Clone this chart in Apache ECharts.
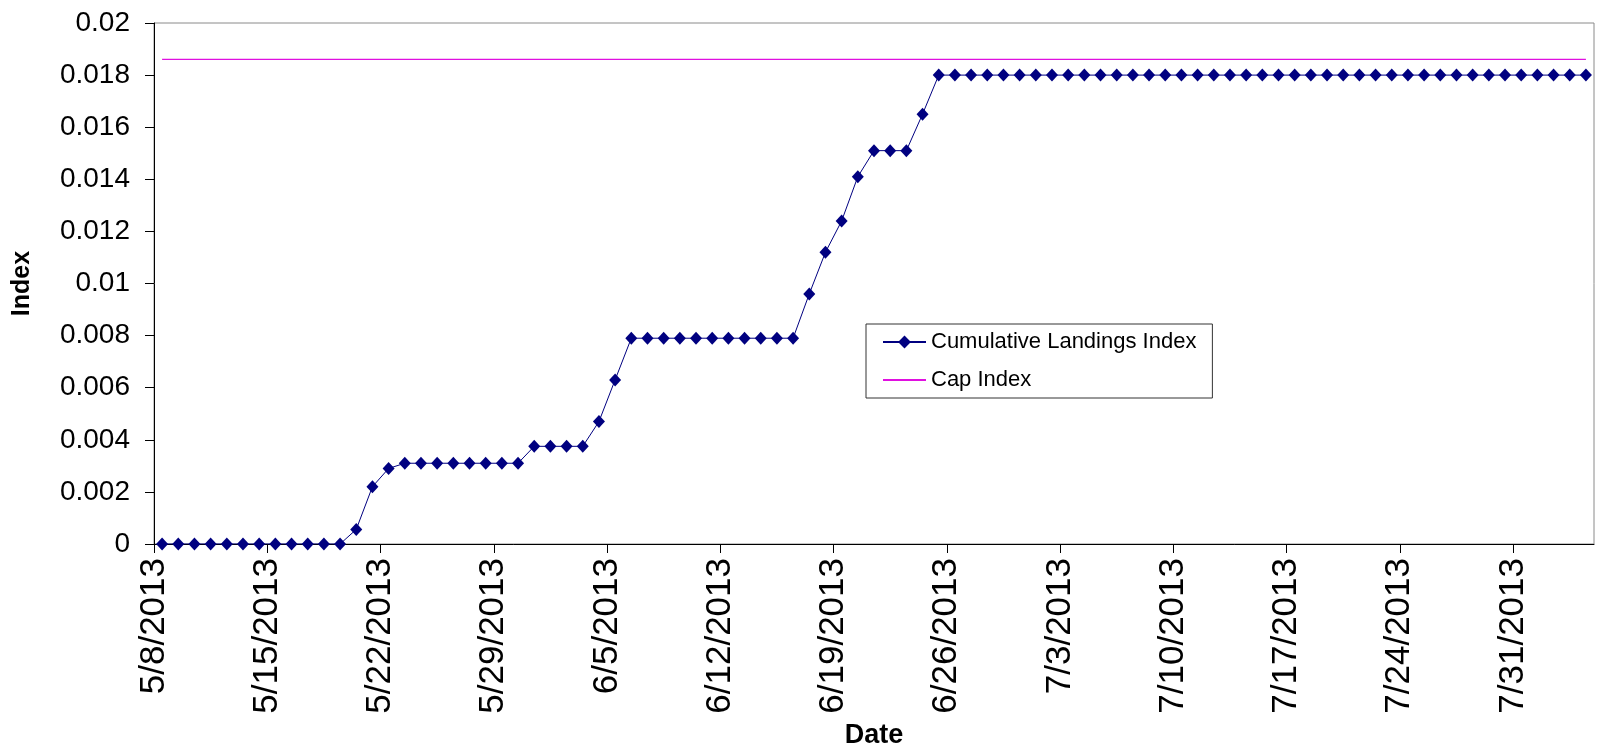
<!DOCTYPE html>
<html>
<head>
<meta charset="utf-8">
<script src="https://cdn.jsdelivr.net/npm/echarts@6/dist/echarts.min.js"></script>
<style>
html,body{margin:0;padding:0;background:#fff;}
#chart{width:1600px;height:749px;}
</style>
</head>
<body>
<div id="chart"></div>
<script>
// Tick labels on the date axis (one every 7 days, starting 5/8/2013)
const tickLabels = ['5/8/2013','5/15/2013','5/22/2013','5/29/2013','6/5/2013','6/12/2013','6/19/2013','6/26/2013','7/3/2013','7/10/2013','7/17/2013','7/24/2013','7/31/2013'];
// Daily values 5/8/2013 .. 8/4/2013 (89 days)
const landingsIndex = [
  0,0,0,0,0,0,0,0,0,0,0,0,
  0.00056,0.0022,0.0029,
  0.0031,0.0031,0.0031,0.0031,0.0031,0.0031,0.0031,0.0031,
  0.00375,0.00375,0.00375,0.00375,
  0.0047,0.0063,
  0.0079,0.0079,0.0079,0.0079,0.0079,0.0079,0.0079,0.0079,0.0079,0.0079,0.0079,
  0.0096,0.0112,0.0124,0.0141,
  0.0151,0.0151,0.0151,
  0.0165,
  0.018,0.018,0.018,0.018,0.018,0.018,0.018,0.018,0.018,0.018,
  0.018,0.018,0.018,0.018,0.018,0.018,0.018,0.018,0.018,0.018,
  0.018,0.018,0.018,0.018,0.018,0.018,0.018,0.018,0.018,0.018,
  0.018,0.018,0.018,0.018,0.018,0.018,0.018,0.018,0.018,0.018,
  0.018
];
const capIndex = 0.0186;
const seriesNames = ['Cumulative Landings Index','Cap Index'];

const FONT = '"Liberation Sans", Arial, sans-serif';
const nDays = landingsIndex.length;
const landingsData = landingsIndex.map((v, i) => [i + 0.5, v]);
const capData = [[0.5, capIndex], [nDays - 0.5, capIndex]];
const tickValues = tickLabels.map((_, i) => i * 7);

const chart = echarts.init(document.getElementById('chart'), null, {renderer: 'canvas'});
chart.setOption({
  animation: false,
  backgroundColor: '#fff',
  textStyle: {fontFamily: FONT},
  grid: {
    left: 154, top: 23, right: 6, bottom: 205,
    show: true, borderColor: '#8a8a8a', borderWidth: 1, backgroundColor: 'transparent',
    containLabel: false,
    outerBoundsMode: 'none'
  },
  legend: {
    orient: 'vertical',
    left: 866, top: 324,
    padding: [6, 16, 6, 16],
    itemWidth: 43, itemHeight: 16, itemGap: 14,
    borderColor: '#333', borderWidth: 1,
    backgroundColor: '#fff',
    textStyle: {fontFamily: FONT, fontSize: 22, color: '#000', lineHeight: 24},
    data: [
      {name: seriesNames[0]},
      {name: seriesNames[1], itemStyle: {opacity: 0}}
    ]
  },
  xAxis: {
    type: 'value',
    min: 0, max: nDays,
    name: 'Date', nameLocation: 'middle', nameGap: 178,
    nameTextStyle: {fontFamily: FONT, fontSize: 27, fontWeight: 'bold', color: '#000'},
    axisLine: {show: true, onZero: false, lineStyle: {color: '#000', width: 1}},
    axisTick: {show: true, length: 9, inside: false, lineStyle: {color: '#000'}, customValues: tickValues},
    axisLabel: {
      rotate: 90, margin: 14, fontFamily: FONT, fontSize: 35, color: '#000',
      customValues: tickValues,
      formatter: v => tickLabels[Math.round(v / 7)] || ''
    },
    splitLine: {show: false}
  },
  yAxis: {
    type: 'value',
    min: 0, max: 0.02, interval: 0.002,
    name: 'Index', nameLocation: 'middle', nameGap: 119, nameRotate: 90,
    nameTextStyle: {fontFamily: FONT, fontSize: 25, fontWeight: 'bold', color: '#000'},
    axisLine: {show: true, lineStyle: {color: '#000', width: 1}},
    axisTick: {show: true, length: 9, inside: false, lineStyle: {color: '#000'}},
    axisLabel: {
      margin: 24, fontFamily: FONT, fontSize: 28, color: '#000',
      formatter: v => String(parseFloat(v.toFixed(4)))
    },
    splitLine: {show: false}
  },
  series: [
    {
      name: seriesNames[0], type: 'line', data: landingsData,
      symbol: 'diamond', symbolSize: [12, 13], showAllSymbol: true,
      itemStyle: {color: '#000080'},
      lineStyle: {color: '#000080', width: 1},
      z: 3
    },
    {
      name: seriesNames[1], type: 'line', data: capData,
      symbol: 'none',
      itemStyle: {color: '#ff00ff'},
      lineStyle: {color: '#e010e0', width: 1.2},
      z: 2
    }
  ]
});
</script>
</body>
</html>
